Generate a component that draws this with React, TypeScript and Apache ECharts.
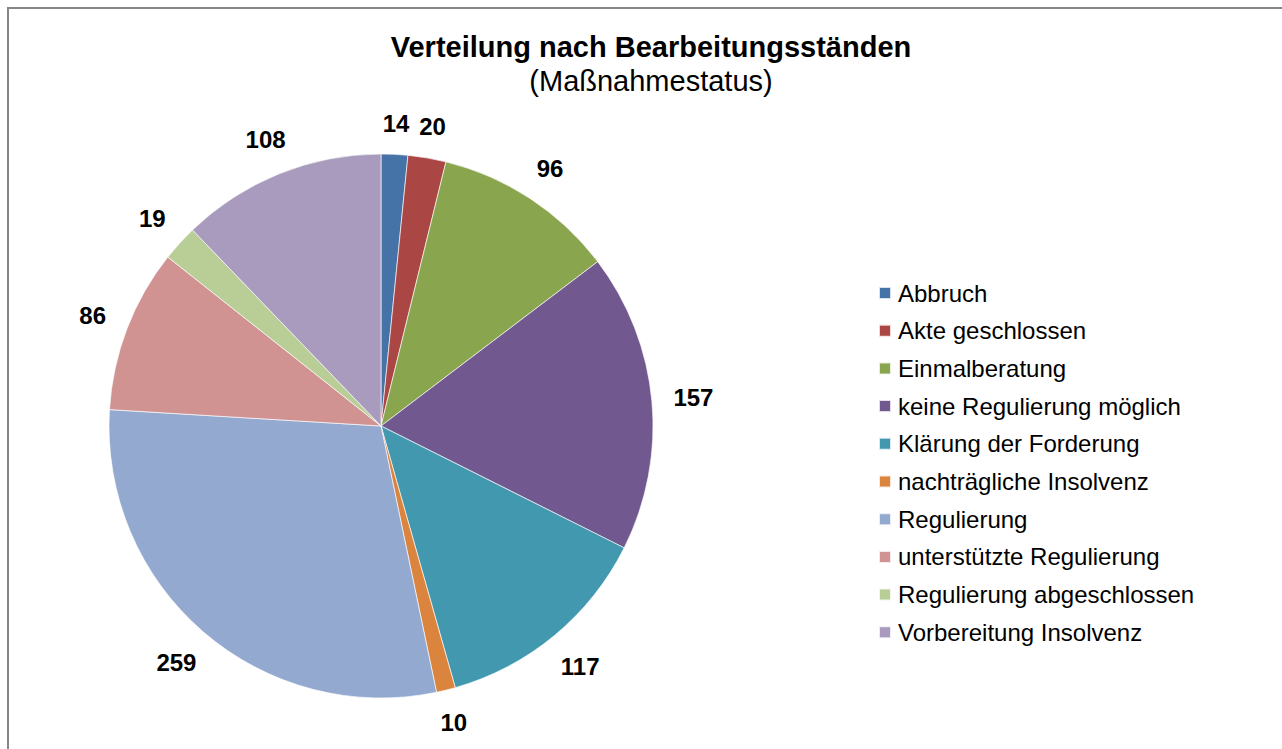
import React, { useEffect, useRef } from "react";
import * as echarts from "echarts";

const categories = [
  "Abbruch",
  "Akte geschlossen",
  "Einmalberatung",
  "keine Regulierung möglich",
  "Klärung der Forderung",
  "nachträgliche Insolvenz",
  "Regulierung",
  "unterstützte Regulierung",
  "Regulierung abgeschlossen",
  "Vorbereitung Insolvenz",
];
const values = [14, 20, 96, 157, 117, 10, 259, 86, 19, 108];
const colors = [
  "#4572A7",
  "#AA4643",
  "#89A54E",
  "#71588F",
  "#4198AF",
  "#DB843D",
  "#93A9CF",
  "#D19392",
  "#B9CD96",
  "#A99BBD",
];
const titleText = "Verteilung nach Bearbeitungsständen";
const subTitleText = "(Maßnahmestatus)";

const FONT = "'Liberation Sans', Arial, sans-serif";
const CENTER = [381, 426];
const RADIUS = 272;
const LABEL_GAP = 21;

export default function App() {
  const ref = useRef<HTMLDivElement>(null);
  useEffect(() => {
    if (!ref.current) return;
    const chart = echarts.init(ref.current, undefined, { renderer: "svg" });
    const total = values.reduce((a, b) => a + b, 0);
    const midAngles: number[] = [];
    let cum = 0;
    values.forEach((v) => {
      midAngles.push(((cum + v / 2) / total) * Math.PI * 2);
      cum += v;
    });
    chart.setOption({
      animation: false,
      backgroundColor: "#ffffff",
      title: {
        text: titleText,
        subtext: subTitleText,
        left: 651,
        textAlign: "center",
        top: 32,
        itemGap: 5,
        padding: 0,
        textStyle: { fontFamily: FONT, fontSize: 29, fontWeight: "bold", color: "#000", lineHeight: 29 },
        subtextStyle: { fontFamily: FONT, fontSize: 29, color: "#000", lineHeight: 29 },
      },
      legend: {
        orient: "vertical",
        left: 878,
        top: 281,
        padding: 0,
        itemWidth: 12,
        itemHeight: 12,
        itemGap: 13.7,
        icon: "rect",
        data: categories,
        textStyle: { fontFamily: FONT, fontSize: 24, color: "#000", lineHeight: 24, padding: [0, 0, 0, 2] },
      },
      graphic: [
        {
          type: "rect",
          shape: { x: 8, y: 8, width: 1300, height: 800 },
          style: { fill: "none", stroke: "#868686", lineWidth: 2 },
          silent: true,
        },
      ],
      series: [
        {
          type: "pie",
          center: CENTER,
          radius: RADIUS,
          startAngle: 90,
          clockwise: true,
          avoidLabelOverlap: false,
          label: {
            show: true,
            position: "outside",
            formatter: "{c}",
            fontFamily: FONT,
            fontSize: 24,
            fontWeight: "bold",
            color: "#000",
          },
          labelLine: { show: false, length: 18, length2: 0 },
          labelLayout: (params: any) => {
            const a = midAngles[params.dataIndex];
            const s = Math.sin(a);
            const c = Math.cos(a);
            const w = params.labelRect.width;
            const h = 18;
            const d = RADIUS + LABEL_GAP + Math.abs((w / 2) * s) + Math.abs((h / 2) * c);
            return {
              x: CENTER[0] + d * s,
              y: CENTER[1] - d * c,
              align: "center",
              verticalAlign: "middle",
            };
          },
          itemStyle: { borderWidth: 0.8, borderColor: "rgba(255,255,255,0.8)" },
          emphasis: { disabled: true },
          data: categories.map((name, i) => ({
            name,
            value: values[i],
            itemStyle: { color: colors[i] },
          })),
        },
      ],
    });
    return () => chart.dispose();
  }, []);
  return (
    <div
      ref={ref}
      style={{ position: "absolute", left: 0, top: 0, width: 1282, height: 749 }}
    />
  );
}
